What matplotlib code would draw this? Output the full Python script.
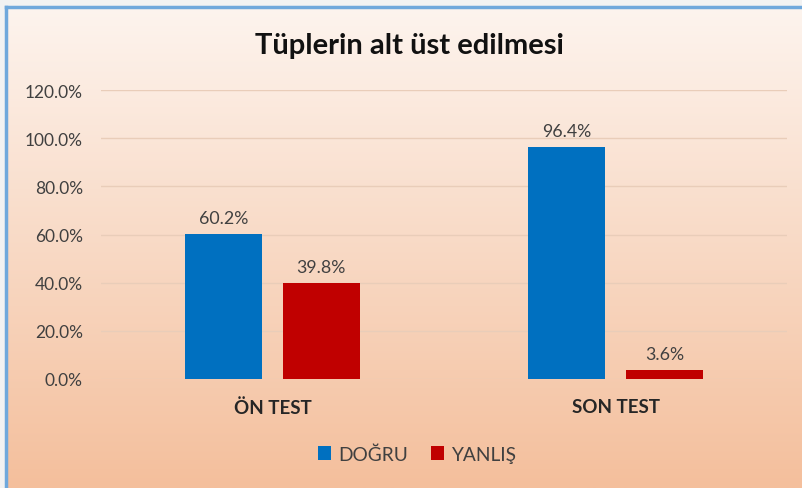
import numpy as np
import matplotlib as mpl
import matplotlib.pyplot as plt
from matplotlib.ticker import PercentFormatter

mpl.rcParams['font.family'] = ['Lato', 'DejaVu Sans']

# veriler
categories = ['ÖN TEST', 'SON TEST']
dogru = [60.2, 96.4]
yanlis = [39.8, 3.6]
series_names = ['DOĞRU', 'YANLIŞ']
title = 'Tüplerin alt üst edilmesi'

fig = plt.figure(figsize=(8.02, 4.89), dpi=100)
fig.patch.set_facecolor('#F2F2F2')

# arka plan gradyan (grafik alani)
bg = fig.add_axes([6/802, 0, 1 - 6/802, (489 - 8)/489], zorder=-2)
grad = np.linspace(0, 1, 256).reshape(-1, 1)
top = np.array(mpl.colors.to_rgb('#FDF4EE'))
bot = np.array(mpl.colors.to_rgb('#F4BF9C'))
img = top + (bot - top) * grad[..., None]
bg.imshow(img.reshape(256, 1, 3), aspect='auto', extent=[0, 1, 0, 1])
bg.set_xticks([]); bg.set_yticks([])
for side in ['top', 'left']:
    bg.spines[side].set_color('#6FA8DC')
    bg.spines[side].set_linewidth(2.5)
for side in ['right', 'bottom']:
    bg.spines[side].set_visible(False)

ax = fig.add_axes([101/802, 109/489, 686/802, 289/489])
ax.set_facecolor('none')
x = np.arange(len(categories))
w = 0.224
b1 = ax.bar(x - 0.1425, dogru, w, color='#0070C0', label=series_names[0], zorder=3)
b2 = ax.bar(x + 0.1425, yanlis, w, color='#C00000', label=series_names[1], zorder=3)
for bars, vals in [(b1, dogru), (b2, yanlis)]:
    for r, v in zip(bars, vals):
        ax.text(r.get_x() + r.get_width()/2, v + 3.3, f'{v:.1f}%', ha='center', va='bottom',
                fontsize=12.8, color='#404040')

ax.set_xlim(-0.5, 1.5)
ax.set_ylim(0, 120)
ax.set_yticks(np.arange(0, 121, 20))
ax.yaxis.set_major_formatter(PercentFormatter(decimals=1))
ax.set_xticks(x)
ax.set_xticklabels(categories, fontsize=13.5, fontweight='bold', color='#262626')
ax.tick_params(axis='y', labelsize=12.5, labelcolor='#404040', length=0, pad=13)
ax.tick_params(axis='x', length=0, pad=14)
ax.grid(axis='y', color='#E9CDB9', linewidth=1, zorder=0)
for s in ax.spines.values():
    s.set_visible(False)

fig.text(0.511, 0.905, title, ha='center', va='center', fontsize=21, fontweight='bold', color='#111111')

fig.legend(handles=[b1, b2], labels=series_names, loc='center', bbox_to_anchor=(0.52, 0.07),
           ncol=2, frameon=False, fontsize=13.8, handlelength=0.7, handleheight=0.7,
           handletextpad=0.35, columnspacing=1.2, labelcolor='#404040')

fig.savefig('out.png', dpi=100)
